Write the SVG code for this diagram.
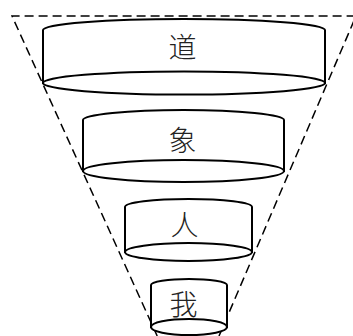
<svg xmlns="http://www.w3.org/2000/svg" width="353" height="336" viewBox="0 0 353 336">
<style>
.cyl{fill:#fff;stroke:#000;stroke-width:2}
.lbl{font-family:"Noto Sans CJK SC","Noto Sans CJK JP",sans-serif;font-size:28px;font-weight:300;fill:#222;text-anchor:middle;dominant-baseline:central}
.dash{fill:none;stroke:#000;stroke-width:1.5;stroke-dasharray:9 5}
</style>
<rect width="353" height="336" fill="#fff"/>
<g id="connectors">
<path class="dash" d="M157.2,336 L12,16 L356,16 L219,336"/>
</g>
<g id="dao">
<path class="cyl" d="M43,30 A141,11 0 0 1 325,30 L325,83 L43,83 Z"/>
<ellipse class="cyl" cx="184" cy="83" rx="141" ry="11.5"/>
<text class="lbl" x="182.5" y="46">道</text>
</g>
<g id="xiang">
<path class="cyl" d="M83,120 A100.5,10 0 0 1 284,120 L284,171 L83,171 Z"/>
<ellipse class="cyl" cx="183.5" cy="171" rx="100.5" ry="11"/>
<text class="lbl" x="182.5" y="139">象</text>
</g>
<g id="ren">
<path class="cyl" d="M125,207 A63.5,8 0 0 1 252,207 L252,252 L125,252 Z"/>
<ellipse class="cyl" cx="188.5" cy="252" rx="63.5" ry="9"/>
<text class="lbl" x="184.5" y="223.5">人</text>
</g>
<g id="wo">
<path class="cyl" d="M151,285 A38,6 0 0 1 227,285 L227,327 L151,327 Z"/>
<ellipse class="cyl" cx="189" cy="327" rx="38" ry="8"/>
<text class="lbl" x="183.5" y="303">我</text>
</g>
</svg>
